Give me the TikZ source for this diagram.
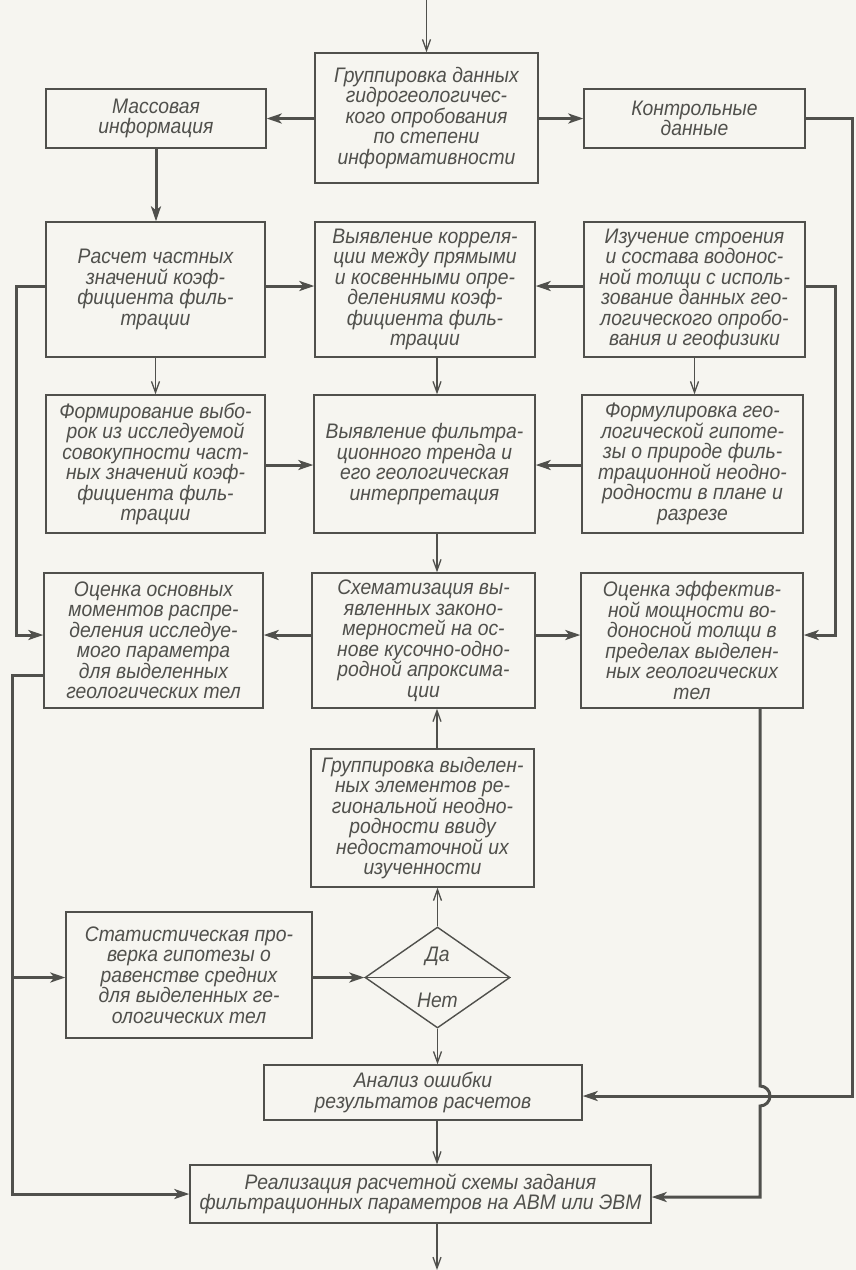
\documentclass[tikz,border=0pt]{standalone}
\usepackage{fontspec}
\setmainfont{Liberation Sans}
\newfontfamily\gost{Liberation Sans}[FakeStretch=0.92]
\usetikzlibrary{arrows.meta,shapes.geometric}
\definecolor{ink}{RGB}{80,80,76}
\definecolor{paper}{RGB}{246,245,240}
\begin{document}
\begin{tikzpicture}[x=1pt,y=-1pt,
 box/.style={draw=ink, line width=1.4pt, text=ink, align=center, inner sep=2pt,
   font=\gost\itshape\fontsize{21}{20.5}\selectfont},
 thinarrow/.style={draw=ink, line width=1.3pt, -{Straight Barb[length=11pt,width=8pt,line width=1.3pt]}},
 fatarrow/.style={draw=ink, line width=3pt, -{Stealth[length=15pt,width=10pt,inset=4pt]}},
]
\fill[paper] (0,0) rectangle (856,1270);
\useasboundingbox (0,0) rectangle (856,1270);

% levels
\coordinate (xc) at (437,0);
\coordinate (xl) at (16,0);
\coordinate (xll) at (12,0);
\coordinate (xr) at (835,0);
\coordinate (xh) at (760,0);
\coordinate (L2) at (0,286);
\coordinate (L3) at (0,465);
\coordinate (L4) at (0,635);
\coordinate (L4b) at (0,675);
\coordinate (LR) at (0,1194);
\coordinate (LRr) at (0,1197);
\coordinate (hopA) at (0,1086);
\coordinate (k1) at (852,118);
\coordinate (k2) at (852,1096);
\coordinate (in) at (0,0);
\coordinate (out) at (437,1270);

% row 1
\node[box, minimum width=223pt, minimum height=130pt] (T) at (426.5,118)
 {Группировка данных\\гидрогеологичес-\\кого опробования\\по степени\\информативности};
\node[box, minimum width=220pt, minimum height=59pt] (M) at (156,118.5)
 {Массовая\\информация};
\node[box, minimum width=221pt, minimum height=59pt] (K) at (694.5,118.5)
 {Контрольные\\данные};

% row 2
\node[box, minimum width=219pt, minimum height=135pt] (A1) at (155.5,289.5)
 {Расчет частных\\значений коэф-\\фициента филь-\\трации};
\node[box, minimum width=220pt, minimum height=135pt] (A2) at (425,289.5)
 {Выявление корреля-\\ции между прямыми\\и косвенными опре-\\делениями коэф-\\фициента филь-\\трации};
\node[box, minimum width=221pt, minimum height=135pt] (A3) at (694.5,289.5)
 {Изучение строения\\и состава водонос-\\ной толщи с исполь-\\зование данных гео-\\логического опробо-\\вания и геофизики};

% row 3
\node[box, minimum width=219pt, minimum height=138pt] (B1) at (155.5,464)
 {Формирование выбо-\\рок из исследуемой\\совокупности част-\\ных значений коэф-\\фициента филь-\\трации};
\node[box, minimum width=221pt, minimum height=138pt] (B2) at (424.5,464)
 {Выявление фильтра-\\ционного тренда и\\его геологическая\\интерпретация};
\node[box, minimum width=221pt, minimum height=138pt] (B3) at (692.5,464)
 {Формулировка гео-\\логической гипоте-\\зы о природе филь-\\трационной неодно-\\родности в плане и\\разрезе};

% row 4
\node[box, minimum width=219pt, minimum height=135pt] (C1) at (153.5,640.5)
 {Оценка основных\\моментов распре-\\деления исследуе-\\мого параметра\\для выделенных\\геологических тел};
\node[box, minimum width=223pt, minimum height=135pt] (C2) at (423.5,640.5)
 {Схематизация вы-\\явленных законо-\\мерностей на ос-\\нове кусочно-одно-\\родной апроксима-\\ции};
\node[box, minimum width=222pt, minimum height=135pt] (C3) at (692,640.5)
 {Оценка эффектив-\\ной мощности во-\\доносной толщи в\\пределах выделен-\\ных геологических\\тел};

% lower part
\node[box, minimum width=223pt, minimum height=138pt] (D) at (422.5,818)
 {Группировка выделен-\\ных элементов ре-\\гиональной неодно-\\родности ввиду\\недостаточной их\\изученности};
\node[box, minimum width=246pt, minimum height=126pt] (S) at (189,975)
 {Статистическая про-\\верка гипотезы о\\равенстве средних\\для выделенных ге-\\ологических тел};
\node[draw=ink, line width=1.4pt, diamond, minimum width=145pt, minimum height=101pt, inner sep=0pt] (Q) at (437.5,977.5) {};
\draw[draw=ink, line width=1.4pt] (Q.west) -- (Q.east);
\node[text=ink, font=\gost\itshape\fontsize{21}{20.5}\selectfont] (Qy) at (437.5,956) {Да};
\node[text=ink, font=\gost\itshape\fontsize{21}{20.5}\selectfont] (Qn) at (437.5,1000) {Нет};
\node[box, minimum width=318pt, minimum height=55pt] (An) at (423,1092.5)
 {Анализ ошибки\\результатов расчетов};
\node[box, minimum width=461pt, minimum height=58pt] (R) at (420.5,1194)
 {Реализация расчетной схемы задания\\фильтрационных параметров на АВМ или ЭВМ};

% connectors
\draw[thinarrow] (T.north |- in) -- (T.north);
\draw[fatarrow] (T.west |- M.east) -- (M.east);
\draw[fatarrow] (T.east |- K.west) -- (K.west);
\draw[fatarrow] (K.east |- k1) -- (k1) -- (k2) -- (An.east |- k2);
\draw[fatarrow] (M.south) -- (M.south |- A1.north);

\draw[fatarrow] (A1.east |- L2) -- (A2.west |- L2);
\draw[fatarrow] (A3.west |- L2) -- (A2.east |- L2);
\draw[fatarrow] (A1.west |- L2) -| (xl |- L4) -- (C1.west |- L4);
\draw[fatarrow] (A3.east |- L2) -| (xr |- L4) -- (C3.east |- L4);

\draw[thinarrow] (A1.south) -- (A1.south |- B1.north);
\draw[thinarrow] (A2.south -| xc) -- (B2.north -| xc);
\draw[thinarrow] (A3.south) -- (A3.south |- B3.north);

\draw[fatarrow] (B1.east |- L3) -- (B2.west |- L3);
\draw[fatarrow] (B3.west |- L3) -- (B2.east |- L3);
\draw[thinarrow] (B2.south -| xc) -- (C2.north -| xc);

\draw[fatarrow] (C2.west |- L4) -- (C1.east |- L4);
\draw[fatarrow] (C2.east |- L4) -- (C3.west |- L4);

\draw[thinarrow] (D.north -| xc) -- (C2.south -| xc);
\draw[thinarrow] (Q.north) -- (Q.north |- D.south);
\draw[fatarrow] (S.east |- Q.west) -- (Q.west);
\draw[thinarrow] (Q.south) -- (Q.south |- An.north);
\draw[thinarrow] (An.south -| xc) -- (R.north -| xc);
\draw[thinarrow] (R.south -| xc) -- (out);

\draw[fatarrow] (C1.west |- L4b) -| (xll |- LR) -- (R.west |- LR);
\draw[fatarrow] (xll |- Q.west) -- (S.west |- Q.west);
\draw[fatarrow] (C3.south -| xh) -- (xh |- hopA) arc[start angle=90,end angle=-90,radius=10pt] -- (xh |- LRr) -- (R.east |- LRr);
\end{tikzpicture}
\end{document}
